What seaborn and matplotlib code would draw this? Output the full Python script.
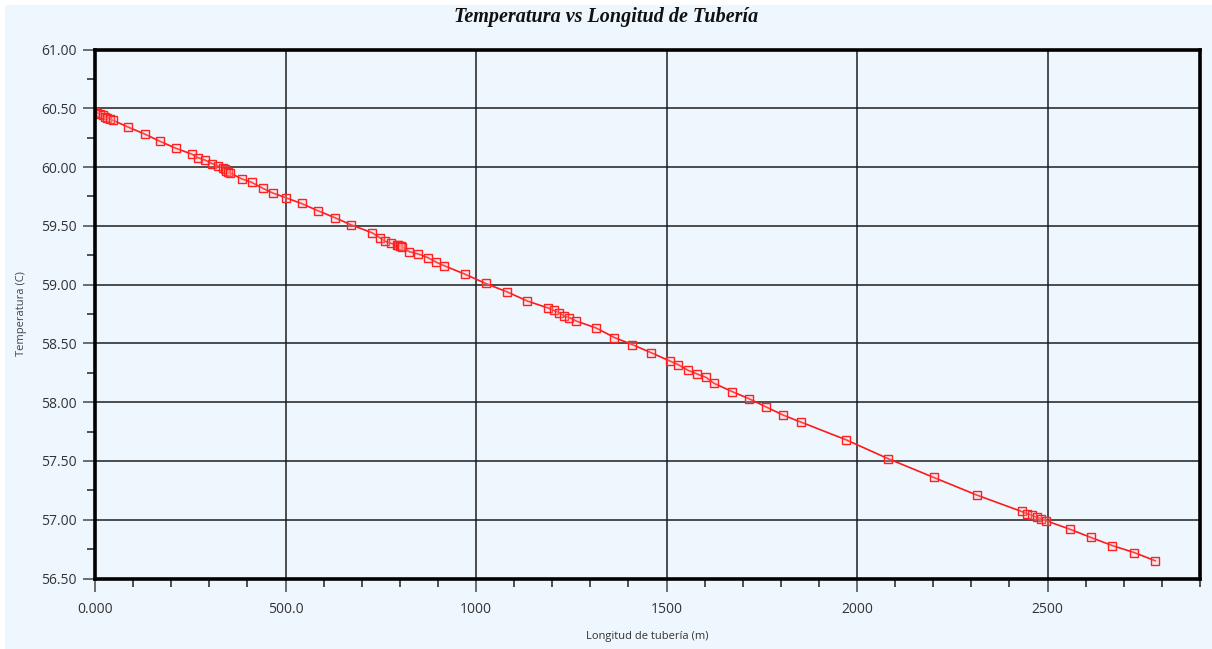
import matplotlib
matplotlib.use("Agg")
import matplotlib.pyplot as plt
from matplotlib.patches import Rectangle
from matplotlib.ticker import MultipleLocator
import seaborn as sns

# longitud de tubería (m) and temperatura (C)
longitud = [
    0, 6, 13, 20, 26, 32, 39, 46,
    87, 131, 170, 212, 254, 270, 288, 307, 322,
    335, 340, 345, 350, 354,
    385, 411, 440, 466, 500, 542, 584, 629, 671,
    728, 747, 760, 778, 792, 796, 800, 804, 807,
    825, 849, 873, 896, 917, 970, 1025, 1080, 1135,
    1190, 1205, 1219, 1232, 1245, 1263, 1316, 1363,
    1410, 1460, 1509, 1530, 1557, 1580, 1604, 1625,
    1672, 1716, 1761, 1806, 1853, 1971, 2081, 2201, 2314,
    2432, 2445, 2458, 2471, 2484, 2497,
    2558, 2613, 2670, 2728, 2783,
]
temperatura = [
    60.47, 60.46, 60.45, 60.44, 60.43, 60.42, 60.41, 60.40,
    60.34, 60.28, 60.22, 60.16, 60.11, 60.08, 60.06, 60.03, 60.01,
    59.99, 59.98, 59.97, 59.96, 59.95,
    59.90, 59.87, 59.82, 59.78, 59.74, 59.69, 59.63, 59.57, 59.51,
    59.44, 59.40, 59.37, 59.35, 59.34, 59.335, 59.33, 59.325, 59.32,
    59.28, 59.26, 59.23, 59.19, 59.16, 59.09, 59.01, 58.94, 58.86,
    58.80, 58.78, 58.76, 58.73, 58.72, 58.69, 58.63, 58.55,
    58.49, 58.42, 58.35, 58.32, 58.27, 58.24, 58.21, 58.16,
    58.09, 58.03, 57.96, 57.89, 57.83, 57.68, 57.52, 57.36, 57.21,
    57.07, 57.05, 57.04, 57.02, 57.01, 56.99,
    56.92, 56.85, 56.78, 56.72, 56.65,
]

x_ticks = [0, 500, 1000, 1500, 2000, 2500]
x_tick_labels = ["0.000", "500.0", "1000", "1500", "2000", "2500"]
y_ticks = [56.5, 57.0, 57.5, 58.0, 58.5, 59.0, 59.5, 60.0, 60.5, 61.0]

bg = "#EEF6FE"

sns.set_style("white")
plt.rcParams["font.family"] = ["Open Sans", "DejaVu Sans"]

fig = plt.figure(figsize=(12.12, 6.49), dpi=100, facecolor="white")
# light blue panel, thin white strip on top/left like the original
fig.patches.append(Rectangle((5 / 1212, 0), 1, 1 - 5 / 649,
                             transform=fig.transFigure, facecolor=bg,
                             edgecolor="none", zorder=-10))

ax = fig.add_axes([95 / 1212, 1 - 578.5 / 649, 1105 / 1212, 529 / 649])
ax.set_facecolor(bg)

sns.lineplot(x=longitud, y=temperatura, ax=ax, sort=False, estimator=None,
             color="#FF1A1A", linewidth=1.2, marker="s", markersize=5.5,
             markerfacecolor=(1, 0.75, 0.75, 0.25), markeredgecolor="#FF2020",
             markeredgewidth=1.0, zorder=3)

ax.set_xlim(0, 2900)
ax.set_ylim(56.5, 61.0)
ax.set_xticks(x_ticks, x_tick_labels)
ax.set_yticks(y_ticks)
ax.yaxis.set_major_formatter(matplotlib.ticker.FormatStrFormatter("%.2f"))
ax.xaxis.set_minor_locator(MultipleLocator(100))
ax.yaxis.set_minor_locator(MultipleLocator(0.25))

ax.grid(True, which="major", color="#1a1a1a", linewidth=1.2, alpha=0.9)
ax.set_axisbelow(True)

for s in ax.spines.values():
    s.set_color("black")
    s.set_linewidth(2.6)
    s.set_zorder(4)

ax.tick_params(axis="both", which="both", bottom=True, left=True,
               top=False, right=False)
ax.tick_params(axis="both", which="major", direction="out", length=9,
               width=1.2, colors="#555555", labelcolor="#333333",
               labelsize=10)
ax.tick_params(axis="both", which="minor", direction="out", length=6,
               width=1.2, colors="#333333")
ax.tick_params(axis="x", which="major", pad=8)
ax.tick_params(axis="y", which="major", pad=4)

ax.set_xlabel("Longitud de tubería (m)", fontsize=8, color="#333333",
              labelpad=10)
ax.set_ylabel("Temperatura (C)", fontsize=8, color="#444444", labelpad=10)

fig.text(0.5, 1 - 17 / 649, "Temperatura vs Longitud de Tubería",
         ha="center", va="center", fontsize=14.5, fontweight="bold",
         fontstyle="italic", family=["Liberation Serif", "DejaVu Serif"],
         color="#111111")

fig.savefig("out.png", dpi=100, facecolor=fig.get_facecolor())
